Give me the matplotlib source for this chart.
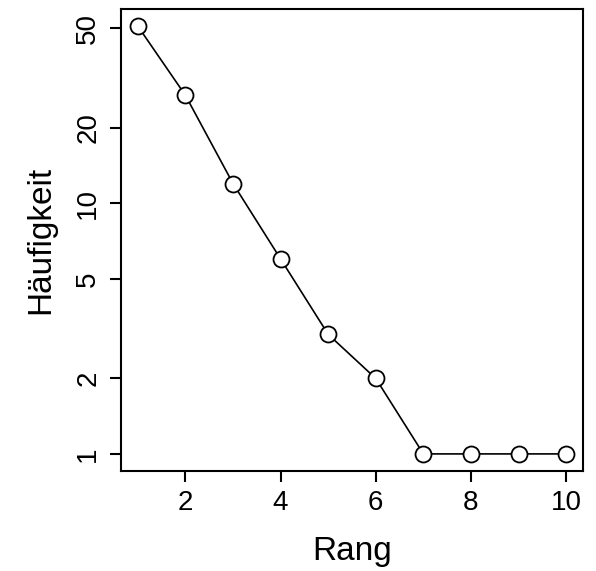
import numpy as np
import matplotlib.pyplot as plt
from matplotlib.ticker import FixedLocator, NullLocator

plt.rcParams['font.family'] = ['Liberation Sans', 'DejaVu Sans']

rang = [1, 2, 3, 4, 5, 6, 7, 8, 9, 10]
haeufigkeit = [51, 27, 12, 6, 3, 2, 1, 1, 1, 1]
yticks = [1, 2, 5, 10, 20, 50]
xticks = [2, 4, 6, 8, 10]

fig = plt.figure(figsize=(5.96, 5.71), dpi=100)
ax = fig.add_axes([0.2025, 0.1751, 0.9787 - 0.2025, 0.9842 - 0.1751])

ax.plot(rang, haeufigkeit, color='black', lw=1.2, marker='o', markersize=11.5,
        markerfacecolor='white', markeredgecolor='black', markeredgewidth=1.3)

ax.set_yscale('log')
lo, hi = np.log10(min(haeufigkeit)), np.log10(max(haeufigkeit))
pad = 0.04 * (hi - lo)
ax.set_ylim(10 ** (lo - pad), 10 ** (hi + pad))
ax.set_xlim(1 - 0.04 * 9, 10 + 0.04 * 9)

ax.yaxis.set_major_locator(FixedLocator(yticks))
ax.yaxis.set_minor_locator(NullLocator())
ax.set_yticklabels([str(t) for t in yticks], rotation=90, va='center')
ax.set_xticks(xticks)
ax.set_xticklabels([str(t) for t in xticks])

for s in ax.spines.values():
    s.set_linewidth(1.5)
ax.tick_params(axis='both', length=8, width=1.5, labelsize=20, pad=6)

ax.set_xlabel('Rang', fontsize=24, labelpad=14)
ax.set_ylabel('Häufigkeit', fontsize=24, labelpad=14)

fig.savefig('out.png', dpi=100)
